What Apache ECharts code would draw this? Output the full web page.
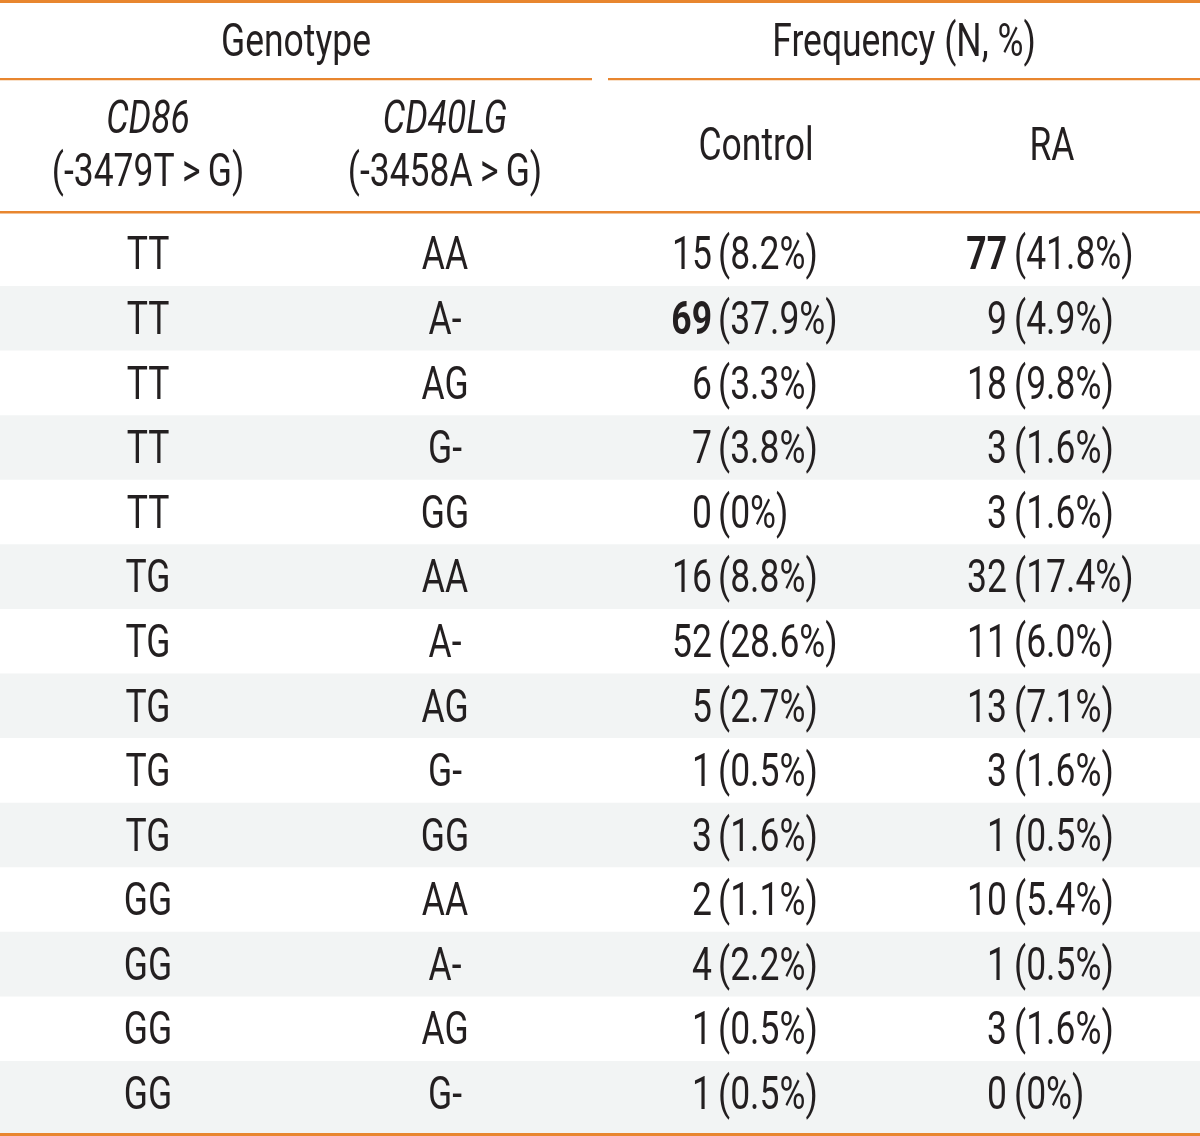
<!DOCTYPE html>
<html>
<head>
<meta charset="utf-8">
<script src="https://cdn.jsdelivr.net/npm/echarts@6/dist/echarts.min.js"></script>
<style>html,body{margin:0;padding:0;background:#fff}#c{width:1200px;height:1136px}</style>
</head>
<body>
<div id="c"></div>
<script>
// ---- data ----
var columns = ['CD86', 'CD40LG', 'Control', 'RA'];
var cd86 = ['TT','TT','TT','TT','TT','TG','TG','TG','TG','TG','GG','GG','GG','GG'];
var cd40lg = ['AA','A-','AG','G-','GG','AA','A-','AG','G-','GG','AA','A-','AG','G-'];
var controlN = [15,69,6,7,0,16,52,5,1,3,2,4,1,1];
var controlPct = ['8.2','37.9','3.3','3.8','0','8.8','28.6','2.7','0.5','1.6','1.1','2.2','0.5','0.5'];
var raN = [77,9,18,3,3,32,11,13,3,1,10,1,3,0];
var raPct = ['41.8','4.9','9.8','1.6','1.6','17.4','6.0','7.1','1.6','0.5','5.4','0.5','1.6','0'];
var groupHeaders = ['Genotype', 'Frequency (N, %)'];
var subHeaders = [['CD86', '(-3479T\u2009>\u2009G)'], ['CD40LG', '(-3458A\u2009>\u2009G)'], ['Control'], ['RA']];

// ---- style ----
var FONT = 'Roboto';
var FS = 47;
var SX = 0.755;
var DY = 4;
var INK = '#231f20';
var ORANGE = '#e8862f';
var STRIPE = '#f2f4f4';

var rows = cd86.map(function (_, i) { return String(i); });
var ctrlMax = Math.max.apply(null, controlN);
var raMax = Math.max.apply(null, raN);

function txt(x, y, s, align, opts) {
  opts = opts || {};
  return {
    type: 'text', x: x, y: y + DY, scaleX: SX, scaleY: 1,
    style: {
      text: s, x: 0, y: 0, align: align, verticalAlign: 'middle',
      fontFamily: FONT, fontSize: opts.fs || FS, fontWeight: opts.bold ? 'bold' : 'normal',
      fontStyle: opts.italic ? 'italic' : 'normal', fill: INK
    }
  };
}

var cellData = rows.map(function (r, i) { return [i]; });
var stripeData = rows.map(function (r, i) { return [i]; }).filter(function (d) { return d[0] % 2 === 1; });

var chart = echarts.init(document.getElementById('c'), null, { renderer: 'canvas' });

var hdrLeft = 148, hdrC1 = 445, hdrC2 = 756, hdrC3 = 1052;

chart.setOption({
  animation: false,
  grid: { left: 0, right: 0, top: 221.4, bottom: 10.4 },
  xAxis: { type: 'category', data: columns, show: false },
  yAxis: { type: 'category', data: rows, inverse: true, show: false },
  series: [
    {
      type: 'custom', data: stripeData, z: 1,
      encode: { y: 0 },
      renderItem: function (params, api) {
        var row = api.value(0);
        var cs = params.coordSys;
        var h = api.size([0, 1])[1];
        var cy = api.coord([0, row])[1];
        var top = cy - h / 2;
        var height = h;
        if (row === rows.length - 1) height = (cs.y + cs.height + 8) - top;
        return { type: 'rect', shape: { x: cs.x, y: top, width: cs.width, height: height }, style: { fill: STRIPE } };
      }
    },
    {
      type: 'custom', data: cellData, z: 5,
      encode: { y: 0 },
      renderItem: function (params, api) {
        var i = api.value(0);
        var p0 = api.coord([0, i]);
        var p1 = api.coord([1, i]);
        var p2 = api.coord([2, i]);
        var p3 = api.coord([3, i]);
        var y = p0[1];
        return {
          type: 'group',
          children: [
            txt(p0[0] - 2, y, cd86[i], 'center'),
            txt(p1[0] - 5, y, cd40lg[i], 'center'),
            txt(p2[0] - 38, y, String(controlN[i]), 'right', { bold: controlN[i] === ctrlMax }),
            txt(p2[0] - 32, y, '(' + controlPct[i] + '%)', 'left'),
            txt(p3[0] - 43, y, String(raN[i]), 'right', { bold: raN[i] === raMax }),
            txt(p3[0] - 36, y, '(' + raPct[i] + '%)', 'left')
          ]
        };
      }
    }
  ],
  graphic: [
    { type: 'rect', shape: { x: 0, y: 0, width: 1200, height: 3 }, style: { fill: ORANGE } },
    { type: 'rect', shape: { x: 0, y: 78, width: 592, height: 2.2 }, style: { fill: ORANGE } },
    { type: 'rect', shape: { x: 608, y: 78, width: 592, height: 2.2 }, style: { fill: ORANGE } },
    { type: 'rect', shape: { x: 0, y: 211, width: 1200, height: 2.5 }, style: { fill: ORANGE } },
    { type: 'rect', shape: { x: 0, y: 1133, width: 1200, height: 3 }, style: { fill: ORANGE }, z: 10 },
    txt(296, 40, groupHeaders[0], 'center'),
    txt(904, 40, groupHeaders[1], 'center'),
    txt(hdrLeft, 117, subHeaders[0][0], 'center', { italic: true }),
    txt(hdrLeft, 170, subHeaders[0][1], 'center'),
    txt(hdrC1, 117, subHeaders[1][0], 'center', { italic: true }),
    txt(hdrC1, 170, subHeaders[1][1], 'center'),
    txt(hdrC2, 144, subHeaders[2][0], 'center'),
    txt(hdrC3, 144, subHeaders[3][0], 'center')
  ]
});
</script>
</body>
</html>
